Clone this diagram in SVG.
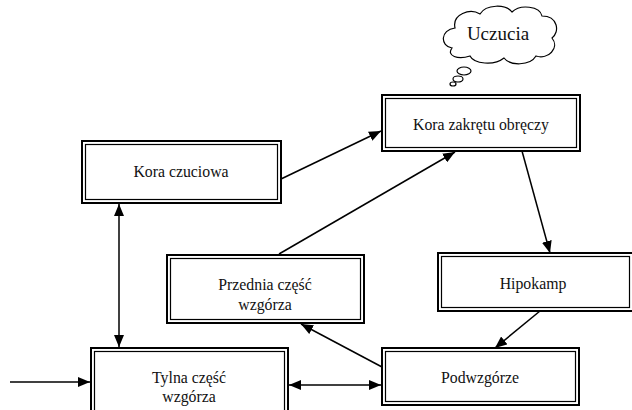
<svg xmlns="http://www.w3.org/2000/svg" width="632" height="410" viewBox="0 0 632 410">
<style>
.o{fill:#fff;stroke:#000;stroke-width:2}
.i{fill:none;stroke:#000;stroke-width:1.2}
.c{fill:none;stroke:#000;stroke-width:1.5}
.cl{fill:#fff;stroke:#000;stroke-width:1.2}
</style>
<defs>
<marker id="a" markerUnits="userSpaceOnUse" markerWidth="12" markerHeight="10" refX="12" refY="5" orient="auto-start-reverse" viewBox="0 0 12 10">
<path d="M0,0 L12,5 L0,10 Z" fill="#000"/>
</marker>
</defs>
<rect width="632" height="410" fill="#fff"/>
<g font-family="Liberation Serif, DejaVu Serif, serif" font-size="15.8" fill="#111" text-anchor="middle">
<g id="uczucia">
<path class="cl" d="M452,48 C440,46 440,30 455,28 C452,14 470,8 480,14 C486,4 506,4 512,12 C520,4 540,6 542,16 C558,16 560,32 552,38 C560,48 548,60 536,56 C530,66 510,66 504,58 C494,66 474,64 470,56 C458,60 446,56 452,48 Z"/>
<ellipse class="cl" cx="464" cy="71" rx="7" ry="4"/>
<ellipse class="cl" cx="458" cy="79" rx="5" ry="3"/>
<ellipse class="cl" cx="453" cy="84" rx="3" ry="2"/>
<text x="498" y="40" font-size="19">Uczucia</text>
</g>
<g id="kora-zakretu">
<rect class="o" x="382" y="95" width="198" height="56"/>
<rect class="i" x="385.5" y="98.5" width="191" height="49"/>
<text x="481" y="130">Kora zakrętu obręczy</text>
</g>
<g id="kora-czuciowa">
<rect class="o" x="82" y="141" width="199" height="62"/>
<rect class="i" x="85.5" y="144.5" width="192" height="55"/>
<text x="181" y="177">Kora czuciowa</text>
</g>
<g id="przednia">
<rect class="o" x="167" y="255" width="197" height="68"/>
<rect class="i" x="170.5" y="258.5" width="190" height="61"/>
<text x="265" y="290">Przednia część</text>
<text x="265" y="310">wzgórza</text>
</g>
<g id="hipokamp">
<rect class="o" x="438" y="253" width="195" height="58"/>
<rect class="i" x="441.5" y="256.5" width="188" height="51"/>
<text x="533" y="289">Hipokamp</text>
</g>
<g id="tylna">
<rect class="o" x="91" y="348" width="197" height="70"/>
<rect class="i" x="94.5" y="351.5" width="190" height="63"/>
<text x="189" y="383">Tylna część</text>
<text x="189" y="402">wzgórza</text>
</g>
<g id="podwzgorze">
<rect class="o" x="382" y="348" width="197" height="57"/>
<rect class="i" x="385.5" y="351.5" width="190" height="50"/>
<text x="480" y="383">Podwzgórze</text>
</g>
</g>
<g id="connectors">
<line class="c" x1="281" y1="179" x2="381" y2="131" marker-end="url(#a)"/>
<line class="c" x1="279" y1="254" x2="455" y2="152" marker-end="url(#a)"/>
<line class="c" x1="522" y1="151" x2="550" y2="253" marker-end="url(#a)"/>
<line class="c" x1="540" y1="311" x2="495" y2="348" marker-end="url(#a)"/>
<line class="c" x1="382" y1="367" x2="301" y2="324" marker-end="url(#a)"/>
<line class="c" x1="119" y1="204" x2="119" y2="347" marker-start="url(#a)" marker-end="url(#a)"/>
<line class="c" x1="289" y1="385" x2="381" y2="385" marker-start="url(#a)" marker-end="url(#a)"/>
<line class="c" x1="10" y1="382" x2="90" y2="382" marker-end="url(#a)"/>
</g>
</svg>
